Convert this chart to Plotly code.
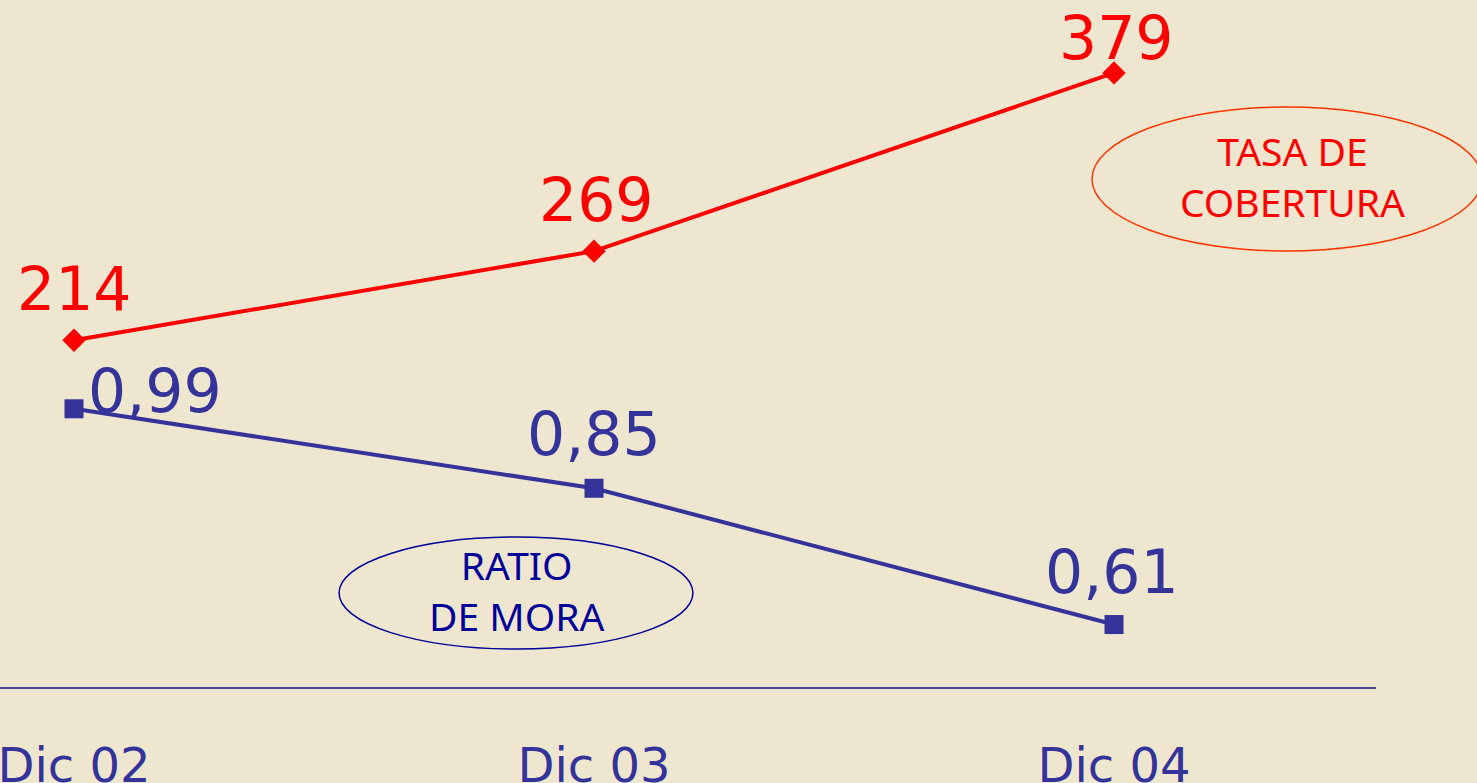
import plotly.graph_objects as go

categories = ["Dic 02", "Dic 03", "Dic 04"]
tasa_cobertura = [214, 269, 379]
ratio_mora = [0.99, 0.85, 0.61]
tasa_labels = ["214", "269", "379"]
mora_labels = ["0,99", "0,85", "0,61"]

BG = "#EFE6D0"
RED = "#FF0000"
BLUE = "#333399"
DARKBLUE = "#000099"

xs = list(range(len(categories)))

fig = go.Figure()
fig.add_trace(go.Scatter(
    x=xs, y=tasa_cobertura, mode="lines+markers",
    line=dict(color=RED, width=4),
    marker=dict(symbol="diamond", size=18, color=RED),
    yaxis="y", hoverinfo="skip", showlegend=False))
fig.add_trace(go.Scatter(
    x=xs, y=ratio_mora, mode="lines+markers",
    line=dict(color=BLUE, width=4),
    marker=dict(symbol="square", size=19, color=BLUE),
    yaxis="y2", hoverinfo="skip", showlegend=False))

label_font = dict(family="DejaVu Sans", size=60)
red_offsets = [(0, 51), (2, 51), (2, 35)]
blue_offsets = [(81, 18), (0, 54), (-2, 53)]
for i, (v, t) in enumerate(zip(tasa_cobertura, tasa_labels)):
    fig.add_annotation(x=xs[i], y=v, xref="x", yref="y", text=t, showarrow=False,
                       xanchor="center", yanchor="middle",
                       xshift=red_offsets[i][0], yshift=red_offsets[i][1],
                       font=dict(color=RED, **label_font))
for i, (v, t) in enumerate(zip(ratio_mora, mora_labels)):
    fig.add_annotation(x=xs[i], y=v, xref="x", yref="y2", text=t, showarrow=False,
                       xanchor="center", yanchor="middle",
                       xshift=blue_offsets[i][0], yshift=blue_offsets[i][1],
                       font=dict(color=BLUE, **label_font))

# Ellipse legends
fig.add_shape(type="circle", xref="paper", yref="paper",
              x0=0.7936, x1=1.077, y0=0.6346, y1=0.8443,
              line=dict(color="#FF3300", width=1.5))
fig.add_shape(type="circle", xref="paper", yref="paper",
              x0=0.2464, x1=0.5036, y0=0.0553, y1=0.2183,
              line=dict(color=DARKBLUE, width=1.5))
legend_font = dict(family="Noto Sans", size=39)
fig.add_annotation(x=0.939, y=0.7445, xref="paper", yref="paper",
                   text="TASA DE<br>COBERTURA", showarrow=False,
                   xanchor="center", yanchor="middle",
                   font=dict(color=RED, **legend_font))
fig.add_annotation(x=0.3757, y=0.1419, xref="paper", yref="paper",
                   text="RATIO<br>DE MORA", showarrow=False,
                   xanchor="center", yanchor="middle",
                   font=dict(color=DARKBLUE, **legend_font))

fig.update_layout(
    width=1477, height=783,
    paper_bgcolor=BG, plot_bgcolor=BG,
    margin=dict(l=0, r=101, t=0, b=96, autoexpand=False),
    xaxis=dict(range=[-0.1423, 2.5038], tickmode="array", tickvals=xs,
               ticktext=categories, showgrid=False, zeroline=False,
               showline=True, linecolor="#4A4A9E", linewidth=2,
               ticks="", ticklabelstandoff=35, automargin=False,
               ticklabeloverflow="allow",
               tickfont=dict(family="DejaVu Sans", size=48, color=BLUE)),
    yaxis=dict(range=[0, 424], visible=False, showgrid=False, automargin=False),
    yaxis2=dict(range=[0.5, 1.71], visible=False, overlaying="y",
                showgrid=False, automargin=False),
)

fig.write_html("out.html", config={"displayModeBar": False},
               post_script="document.body.style.margin='0';document.body.style.overflow='hidden';")
